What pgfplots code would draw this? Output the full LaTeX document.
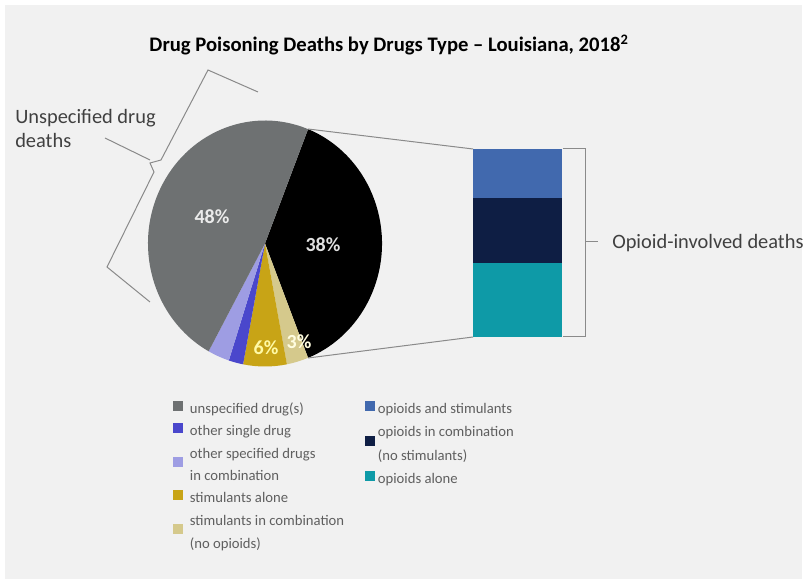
\documentclass[border=0pt]{standalone}
\usepackage{pgfplots}
\pgfplotsset{compat=1.18}
\usepackage{pgfplotstable}
\usepackage{fontspec}
\setmainfont{Carlito}
\definecolor{bg}{HTML}{F1F1F1}
\definecolor{cUnspec}{HTML}{6E7172}
\definecolor{cOpioid}{HTML}{000000}
\definecolor{cStimComb}{HTML}{D5C98C}
\definecolor{cStim}{HTML}{C8A416}
\definecolor{cSingle}{HTML}{4A47CC}
\definecolor{cOther}{HTML}{9E9DE3}
\definecolor{cOS}{HTML}{4169AE}
\definecolor{cOC}{HTML}{0E1E44}
\definecolor{cOA}{HTML}{0E9AA7}
\definecolor{txt}{HTML}{404040}
\definecolor{legtxt}{HTML}{5F5F5F}
\definecolor{brk}{HTML}{8A8A8A}

% square legend image: #1 = bottom of square, #2 = width reserved for the image
\pgfplotsset{sq/.style 2 args={legend image code/.code={%
  \fill[##1,draw=none,overlay] (0pt,#1) rectangle (7.5pt,#1+7.5pt);
  \path[draw=none,fill=none] (0pt,-1.2pt) rectangle (#2,6.3pt);}}}

% pie shares (%), clockwise from the top of the opioid slice
\pgfplotstableread{
share colour
38 cOpioid
3 cStimComb
6 cStim
2 cSingle
3 cOther
48 cUnspec
}\piedata

\begin{document}
\begin{tikzpicture}
\fill[white] (0,0) rectangle (606pt,434.25pt);
\fill[bg] (3.75pt,0pt) rectangle (601.5pt,430.5pt);
\begin{axis}[
  at={(0,0)}, anchor=south west,
  width=606pt, height=434.25pt, scale only axis,
  xmin=0, xmax=808, ymin=-579, ymax=0,
  hide axis, clip=false,
  legend cell align=left,
  legend style={draw=none, fill=none, at={(0.2141,0.3092)}, anchor=north west,
     font=\fontsize{11}{13}\selectfont, text=legtxt, row sep=3.6pt, inner sep=0pt},
]
\xdef\angA{68.4}
\pgfplotsinvokeforeach{0,...,5}{%
  \pgfplotstablegetelem{#1}{share}\of\piedata
  \let\sh\pgfplotsretval
  \pgfplotstablegetelem{#1}{colour}\of\piedata
  \let\col\pgfplotsretval
  \pgfmathsetmacro\angB{\angA-3.6*\sh}%
  \edef\temp{\noexpand\fill[\col] (265,-243.5) -- ++(\angA:87.75pt and 92.25pt) arc[start angle=\angA, end angle=\angB, x radius=87.75pt, y radius=92.25pt] -- cycle;}%
  \temp
  \xdef\angA{\angB}%
}
\addlegendimage{sq={-1.2pt}{10.5pt}, fill=cUnspec}
\addlegendentry{unspecified drug(s)}
\addlegendimage{sq={-1.2pt}{10.5pt}, fill=cSingle}
\addlegendentry{other single drug}
\addlegendimage{sq={-9.6pt}{10.5pt}, fill=cOther}
\addlegendentry{other specified drugs}
\addlegendimage{empty legend}
\addlegendentry{in combination}
\addlegendimage{sq={-1.2pt}{10.5pt}, fill=cStim}
\addlegendentry{stimulants alone}
\addlegendimage{sq={-9.6pt}{10.5pt}, fill=cStimComb}
\addlegendentry{stimulants in combination}
\addlegendimage{empty legend}
\addlegendentry{(no opioids)}

\node[font=\fontsize{15}{18}\selectfont\bfseries, text=white!92!black] at (212,-217) {48\%};
\node[font=\fontsize{15}{18}\selectfont\bfseries, text=white!88!black] at (323,-245) {38\%};
\node[font=\fontsize{15}{18}\selectfont\bfseries, text=yellow!35!white] at (266,-348) {6\%};
\node[font=\fontsize{15}{18}\selectfont\bfseries, text=yellow!12!white] at (299,-342) {3\%};
\node[font=\fontsize{15}{18}\selectfont\bfseries, text=white!92!cOS] at (517,-174) {10\%};
\node[font=\fontsize{15}{18}\selectfont\bfseries, text=white!88!cOC] at (517,-231) {13\%};
\node[font=\fontsize{15}{18}\selectfont\bfseries, text=white!92!cOA] at (517,-300) {15\%};

\node[font=\fontsize{15.5}{18}\selectfont\bfseries, text=black] at (389,-45) {Drug Poisoning Deaths by Drugs Type – Louisiana, 2018\textsuperscript{2}};
\node[anchor=north west, align=left, font=\fontsize{15.3}{18}\selectfont, text=txt, inner sep=0pt] at (15,-109) {Unspecified drug\\deaths};
\node[anchor=west, font=\fontsize{15.3}{17}\selectfont, text=txt, inner sep=0pt] at (612,-243) {Opioid-involved deaths};

\draw[brk, line width=0.75pt] (258,-92) -- (208,-70) -- (161,-160) -- (150,-163) -- (154,-172) -- (107,-267) -- (150,-302);
\draw[brk, line width=0.75pt] (105,-138) -- (150,-160);
\draw[brk, line width=0.75pt] (563,-149) -- (585,-149) -- (585,-337) -- (563,-337);
\draw[brk, line width=0.75pt] (585,-242) -- (598,-242);
\draw[brk, line width=0.75pt] (308,-129) -- (473,-149);
\draw[brk, line width=0.75pt] (308,-358) -- (473,-337);
\end{axis}

\begin{axis}[
  at={(354.75pt,181.5pt)}, anchor=south west,
  width=66.75pt, height=141pt, scale only axis,
  xmin=-0.5, xmax=0.5, ymin=0, ymax=38,
  ybar stacked, bar width=66.75pt,
  hide axis, clip=false,
  legend cell align=left,
  legend style={draw=none, fill=none, at={(-1.2135,-0.3351)}, anchor=north west,
     font=\fontsize{11}{13}\selectfont, text=legtxt, row sep=4.3pt, inner sep=0pt},
]
\addlegendimage{sq={-1.2pt}{7.5pt}, fill=cOS}
\addlegendentry{opioids and stimulants}
\addlegendimage{sq={-10pt}{7.5pt}, fill=cOC}
\addlegendentry{opioids in combination}
\addlegendimage{empty legend}
\addlegendentry{(no stimulants)}
\addlegendimage{sq={-1.2pt}{7.5pt}, fill=cOA}
\addlegendentry{opioids alone}
\addplot[fill=cOA, draw=none] coordinates {(0,15)};
\addplot[fill=cOC, draw=none] coordinates {(0,13)};
\addplot[fill=cOS, draw=none] coordinates {(0,10)};
\end{axis}
\pgfresetboundingbox
\path (0,0) rectangle (606pt,434.25pt);
\end{tikzpicture}
\end{document}
